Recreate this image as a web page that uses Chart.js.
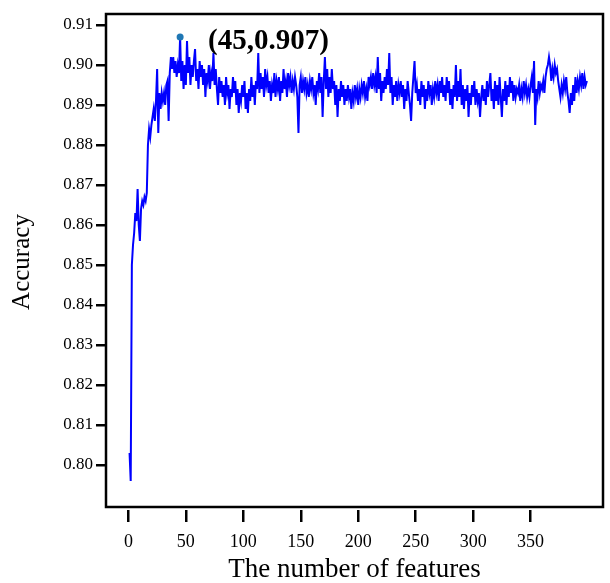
<!DOCTYPE html>
<html>
<head>
<meta charset="utf-8">
<title>Accuracy vs number of features</title>
<script src="https://cdn.jsdelivr.net/npm/chart.js@4/dist/chart.umd.min.js"></script>
<style>
    html, body { margin: 0; padding: 0; background: #fff; }
    #chart { display: block; }
</style>
</head>
<body>
<canvas id="chart" width="610" height="583"></canvas>
<script>
// Accuracy, 50 feature counts per block
const acc001to050 = [
    0.803, 0.796, 0.850, 0.855, 0.858, 0.863, 0.861, 0.869, 0.860, 0.856,
    0.864, 0.866, 0.865, 0.867, 0.866, 0.868, 0.880, 0.884, 0.882, 0.885,
    0.887, 0.889, 0.886, 0.891, 0.899, 0.883, 0.893, 0.889, 0.893, 0.891,
    0.893, 0.890, 0.895, 0.896, 0.886, 0.898, 0.902, 0.899, 0.902, 0.898,
    0.901, 0.897, 0.900, 0.898, 0.907, 0.896, 0.901, 0.894, 0.900, 0.895
];
const acc051to100 = [
    0.906, 0.898, 0.902, 0.895, 0.900, 0.897, 0.901, 0.904, 0.896, 0.899,
    0.894, 0.901, 0.897, 0.900, 0.895, 0.899, 0.892, 0.898, 0.896, 0.900,
    0.894, 0.898, 0.896, 0.903, 0.895, 0.899, 0.894, 0.890, 0.897, 0.893,
    0.896, 0.892, 0.895, 0.890, 0.897, 0.893, 0.895, 0.889, 0.894, 0.892,
    0.897, 0.893, 0.896, 0.890, 0.894, 0.888, 0.893, 0.891, 0.895, 0.892
];
const acc101to150 = [
    0.896, 0.889, 0.893, 0.888, 0.894, 0.891, 0.897, 0.892, 0.895, 0.890,
    0.896, 0.894, 0.903, 0.893, 0.898, 0.894, 0.897, 0.892, 0.899, 0.895,
    0.897, 0.893, 0.896, 0.891, 0.895, 0.893, 0.898, 0.892, 0.896, 0.894,
    0.897, 0.891, 0.896, 0.893, 0.899, 0.894, 0.896, 0.892, 0.898, 0.895,
    0.897, 0.893, 0.896, 0.894, 0.897, 0.895, 0.892, 0.883, 0.895, 0.897
];
const acc151to200 = [
    0.893, 0.896, 0.894, 0.897, 0.893, 0.895, 0.892, 0.896, 0.894, 0.897,
    0.893, 0.895, 0.890, 0.896, 0.894, 0.898, 0.893, 0.897, 0.887, 0.896,
    0.902, 0.894, 0.899, 0.892, 0.897, 0.893, 0.899, 0.894, 0.896, 0.890,
    0.895, 0.887, 0.894, 0.891, 0.896, 0.892, 0.895, 0.890, 0.894, 0.891,
    0.895, 0.892, 0.894, 0.889, 0.893, 0.891, 0.895, 0.892, 0.894, 0.890
];
const acc201to250 = [
    0.894, 0.892, 0.895, 0.893, 0.896, 0.892, 0.894, 0.891, 0.897, 0.895,
    0.897, 0.894, 0.898, 0.895, 0.897, 0.893, 0.902, 0.894, 0.898, 0.891,
    0.896, 0.893, 0.897, 0.894, 0.899, 0.895, 0.903, 0.893, 0.897, 0.890,
    0.895, 0.892, 0.896, 0.891, 0.895, 0.893, 0.896, 0.892, 0.895, 0.889,
    0.894, 0.891, 0.896, 0.893, 0.890, 0.886, 0.893, 0.897, 0.901, 0.893
];
const acc251to300 = [
    0.895, 0.891, 0.894, 0.890, 0.896, 0.892, 0.895, 0.889, 0.894, 0.891,
    0.896, 0.893, 0.895, 0.890, 0.894, 0.892, 0.896, 0.893, 0.895, 0.891,
    0.896, 0.893, 0.897, 0.892, 0.895, 0.891, 0.897, 0.893, 0.896, 0.890,
    0.894, 0.889, 0.895, 0.892, 0.900, 0.891, 0.896, 0.892, 0.899, 0.890,
    0.895, 0.889, 0.894, 0.891, 0.895, 0.887, 0.893, 0.890, 0.895, 0.892
];
const acc301to350 = [
    0.896, 0.890, 0.894, 0.891, 0.893, 0.887, 0.892, 0.895, 0.891, 0.894,
    0.890, 0.896, 0.892, 0.895, 0.898, 0.891, 0.894, 0.889, 0.896, 0.891,
    0.895, 0.890, 0.897, 0.892, 0.887, 0.894, 0.891, 0.896, 0.890, 0.895,
    0.892, 0.897, 0.893, 0.896, 0.891, 0.895, 0.892, 0.894, 0.893, 0.895,
    0.891, 0.894, 0.892, 0.896, 0.893, 0.895, 0.892, 0.894, 0.892, 0.895
];
const acc351to399 = [
    0.897, 0.893, 0.901, 0.885, 0.894, 0.892, 0.896, 0.893, 0.895, 0.894,
    0.896, 0.893, 0.897, 0.899, 0.900, 0.902, 0.900, 0.896, 0.899, 0.897,
    0.900, 0.898, 0.899, 0.896, 0.894, 0.892, 0.895, 0.893, 0.896, 0.894,
    0.897, 0.893, 0.891, 0.888, 0.893, 0.890, 0.895, 0.891, 0.897, 0.893,
    0.896, 0.894, 0.897, 0.895, 0.898, 0.894, 0.897, 0.895, 0.896
];

// Best point and axis ticks
const bestFeatures = 45;
const bestAccuracy = 0.907;
const xTicks = [0, 50, 100, 150, 200, 250, 300, 350];
const yTicks = [0.80, 0.81, 0.82, 0.83, 0.84, 0.85, 0.86, 0.87, 0.88, 0.89, 0.90, 0.91];

const accuracy = [].concat(acc001to050, acc051to100, acc101to150, acc151to200,
    acc201to250, acc251to300, acc301to350, acc351to399);
// feature counts start at 1
const points = accuracy.map((v, i) => ({ x: i + 1, y: v }));

const serif = '"Liberation Serif", "Times New Roman", serif';

// Frame round the plot (bottom edge sits a little above the x ticks)
const framePlugin = {
    id: 'frame',
    afterDraw(chart) {
        const { ctx, chartArea } = chart;
        ctx.save();
        ctx.strokeStyle = '#000';
        ctx.lineWidth = 2.5;
        ctx.strokeRect(chartArea.left, chartArea.top, chartArea.right - chartArea.left, chartArea.bottom - 3 - chartArea.top);
        ctx.restore();
    }
};

// Label next to the best point
const bestLabelPlugin = {
    id: 'bestLabel',
    afterDatasetsDraw(chart) {
        const { ctx, scales } = chart;
        const px = scales.x.getPixelForValue(bestFeatures);
        const py = scales.y.getPixelForValue(bestAccuracy);
        ctx.save();
        ctx.fillStyle = '#000';
        ctx.font = 'bold 29px ' + serif;
        ctx.textBaseline = 'alphabetic';
        ctx.fillText('(' + bestFeatures + ',' + bestAccuracy + ')', px + 28, py + 12);
        ctx.restore();
    }
};

Chart.defaults.color = '#000';
Chart.defaults.font.family = serif;

new Chart(document.getElementById('chart'), {
    type: 'line',
    data: {
        datasets: [
            {
                data: points,
                borderColor: '#0000ff',
                borderWidth: 2,
                pointRadius: 0,
                tension: 0,
                order: 2
            },
            {
                data: [{ x: bestFeatures, y: bestAccuracy }],
                showLine: false,
                pointRadius: 3.5,
                pointBackgroundColor: '#1f77b4',
                pointBorderWidth: 0,
                order: 1
            }
        ]
    },
    options: {
        responsive: false,
        animation: false,
        layout: { padding: { left: 0, right: 7, top: 14, bottom: 0 } },
        plugins: {
            legend: { display: false },
            tooltip: { enabled: false }
        },
        scales: {
            x: {
                type: 'linear',
                min: -19.5,
                max: 413,
                afterBuildTicks: scale => { scale.ticks = xTicks.map(v => ({ value: v })); },
                afterFit: scale => { scale.height = 73; },
                border: { display: false },
                grid: { drawOnChartArea: false, color: '#000', lineWidth: 2.5, tickLength: 12 },
                ticks: { font: { size: 18 }, padding: 9, maxRotation: 0, callback: v => String(v) },
                title: {
                    display: true,
                    text: 'The number of features',
                    font: { size: 27, lineHeight: 1 },
                    padding: 0
                }
            },
            y: {
                min: 0.78875,
                max: 0.91275,
                afterBuildTicks: scale => { scale.ticks = yTicks.map(v => ({ value: v })); },
                afterFit: scale => { scale.width = 106; },
                border: { display: false },
                grid: { drawOnChartArea: false, color: '#000', lineWidth: 2.5, tickLength: 10 },
                ticks: { font: { size: 17 }, padding: 3, callback: v => v.toFixed(2) },
                title: {
                    display: true,
                    text: 'Accuracy',
                    font: { size: 25, lineHeight: 1.2 },
                    padding: { top: 7, bottom: 0 }
                }
            }
        }
    },
    plugins: [framePlugin, bestLabelPlugin]
});
</script>
</body>
</html>
